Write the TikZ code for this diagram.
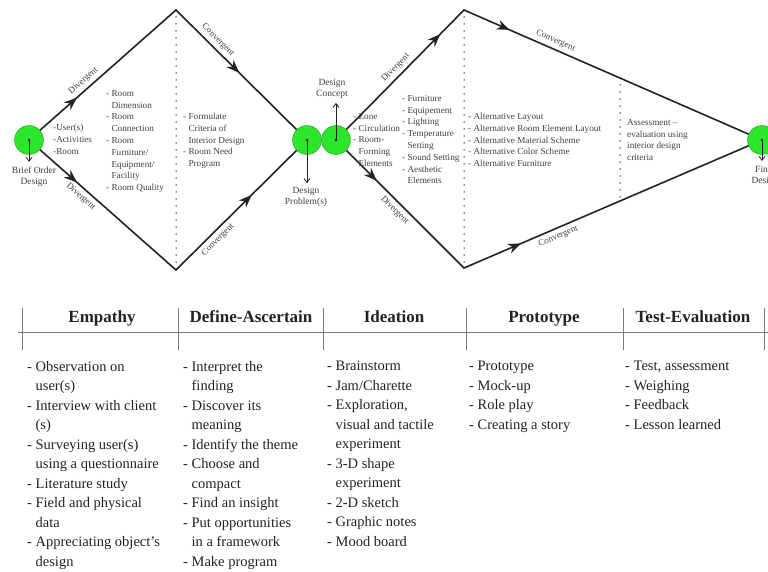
\documentclass[tikz,border=0pt]{standalone}
\usepackage{fontspec}
\setmainfont{Liberation Serif}
\usetikzlibrary{arrows.meta,decorations.markings}
\newcommand{\contl}{\hphantom{-\ }}
\definecolor{dgreen}{HTML}{2CE62C}
\definecolor{dgreenline}{HTML}{1E9E1E}
\definecolor{dink}{HTML}{222222}
\definecolor{dtext}{HTML}{404040}
\definecolor{drule}{HTML}{7A7A7A}

\begin{document}
\begin{tikzpicture}[x=1pt,y=-1pt,
  hub/.style={circle,fill=dgreen,draw=dgreenline,minimum size=29pt,inner sep=0pt},
  flow/.style={dink,line width=1.6pt,line join=miter,postaction={decorate}},
  tag/.style={font=\fontsize{9}{10}\selectfont,text=dtext,sloped,inner sep=3.5pt},
  lst/.style={font=\fontsize{9.2}{11.8}\selectfont,text=dtext,align=left,anchor=north west,inner sep=0pt},
  caplbl/.style={font=\fontsize{9.5}{11}\selectfont,text=dtext,align=center,inner sep=0pt},
  tickarrow/.style={dink,line width=0.8pt,-{Straight Barb[length=4pt,width=6pt]}},
  dots/.style={dink,line width=1.5pt,line cap=round,dash pattern=on 0pt off 7pt},
  head/.style={font=\fontsize{17}{20}\selectfont\bfseries,text=dink,inner sep=0pt,anchor=base},
  col/.style={font=\fontsize{14.5}{19.5}\selectfont,text=dink,align=left,anchor=north west,inner sep=0pt},
  rulec/.style={drule,line width=0.9pt}]
  \useasboundingbox (0,0) rectangle (768,572);

  \node[hub] (brief) at (29,140) {};
  \node[hub] (prob) at (307,140) {};
  \node[hub] (conc) at (336,140) {};
  \node[hub] (final) at (762,140) {};
  \coordinate (t1) at (176,10);
  \coordinate (b1) at (176,270);
  \coordinate (t2) at (464,10);
  \coordinate (b2) at (464,268);
  \coordinate (a3) at (620,78);
  \coordinate (z3) at (620,201);

  \draw[dots] (t1) -- (b1);
  \draw[dots] (t2) -- (b2);
  \draw[dots] (a3) -- (z3);

  \draw[flow,decoration={markings,
      mark=at position 0.14 with {\arrow{Stealth[length=13pt,width=10pt]}},
      mark=at position 0.77 with {\arrow{Stealth[length=13pt,width=10pt]}}}]
    (brief) -- node[tag,above,pos=0.36] (dv1) {Divergent} (t1)
            -- node[tag,above,pos=0.3] (cv1) {Convergent} (prob);
  \draw[flow,decoration={markings,
      mark=at position 0.14 with {\arrow{Stealth[length=13pt,width=10pt]}},
      mark=at position 0.82 with {\arrow{Stealth[length=13pt,width=10pt]}}}]
    (brief) -- node[tag,below,pos=0.34] (dv2) {Divergent} (b1)
            -- node[tag,below,pos=0.3] (cv2) {Convergent} (prob);
  \draw[flow,decoration={markings,
      mark=at position 0.28 with {\arrow{Stealth[length=13pt,width=10pt]}},
      mark=at position 0.455 with {\arrow{Stealth[length=13pt,width=10pt]}}}]
    (conc) -- node[tag,above,pos=0.47] (dv3) {Divergent} (t2)
           -- node[tag,above,pos=0.31] (cv3) {Convergent} (final);
  \draw[flow,decoration={markings,
      mark=at position 0.09 with {\arrow{Stealth[length=13pt,width=10pt]}},
      mark=at position 0.48 with {\arrow{Stealth[length=13pt,width=10pt]}}}]
    (conc) -- node[tag,below,pos=0.46] (dv4) {Divergent} (b2)
           -- node[tag,below,pos=0.32] (cv4) {Convergent} (final);

  \node[caplbl] (briefl) at (34,177) {Brief Order\\Design};
  \node[caplbl] (dprob) at (306,197) {Design\\Problem(s)};
  \node[caplbl] (dcon) at (332,89) {Design\\Concept};
  \node[caplbl] (finl) at (765,176) {Final\\Design};
  \foreach \h in {brief,prob,conc,final}
    \fill[dink] (\h.center) circle (1.4pt);
  \draw[tickarrow,shorten >=5pt] (brief.center) -- (brief.center |- briefl.north);
  \draw[tickarrow,shorten >=4pt] (prob.center) -- (prob.center |- dprob.north);
  \draw[tickarrow,shorten >=4pt] (conc.center) -- (conc.center |- dcon.south);
  \draw[tickarrow,shorten >=5pt] (final.center) -- (final.center |- finl.north);

  \node[lst] (lsusr) at (53,124) {-User(s)\\-Activities\\-Room};
  \node[lst] (lsroom) at (106,90) {- Room\\\contl Dimension\\- Room\\\contl Connection\\- Room\\\contl Furniture/\\\contl Equipment/\\\contl Facility\\- Room Quality};
  \node[lst] (lscrit) at (183,113) {- Formulate\\\contl Criteria of\\\contl Interior Design\\- Room Need\\\contl Program};
  \node[lst] (lszone) at (353,113) {- Zone\\- Circulation\\- Room-\\\contl Forming\\\contl Elements};
  \node[lst] (lsfurn) at (402,95) {- Furniture\\- Equipement\\- Lighting\\- Temperature\\\contl Setting\\- Sound Setting\\- Aesthetic\\\contl Elements};
  \node[lst] (lsalt) at (468,113) {- Alternative Layout\\- Alternative Room Element Layout\\- Alternative Material Scheme\\- Alternative Color Scheme\\- Alternative Furniture};
  \node[lst] (lsass) at (627,119) {Assessment --\\evaluation using\\interior design\\criteria};

  \draw[rulec] (18,332) -- (768,332);
  \foreach \x in {22,178,323,466,623,764}
    \draw[rulec] (\x,308) -- (\x,350);
  \foreach \cx/\nm/\txt in {102/hemp/Empathy, 251/hdef/Define-Ascertain,
      394/hide/Ideation, 544/hpro/Prototype, 693/htst/Test-Evaluation}
    \node[head] (\nm) at (\cx,322) {\txt};

  \node[col] (cemp) at (27,361) {- Observation on\\\contl user(s)\\- Interview with client\\\contl(s)\\- Surveying user(s)\\\contl using a questionnaire\\- Literature study\\- Field and physical\\\contl data\\- Appreciating object’s\\\contl design};
  \node[col] (cdef) at (183,361) {- Interpret the\\\contl finding\\- Discover its\\\contl meaning\\- Identify the theme\\- Choose and\\\contl compact\\- Find an insight\\- Put opportunities\\\contl in a framework\\- Make program};
  \node[col] (cide) at (327,361) {- Brainstorm\\- Jam/Charette\\- Exploration,\\\contl visual and tactile\\\contl experiment\\- 3-D shape\\\contl experiment\\- 2-D sketch\\- Graphic notes\\- Mood board};
  \node[col] (cpro) at (469,361) {- Prototype\\- Mock-up\\- Role play\\- Creating a story};
  \node[col] (ctst) at (625,361) {- Test, assessment\\- Weighing\\- Feedback\\- Lesson learned};
\end{tikzpicture}
\end{document}
